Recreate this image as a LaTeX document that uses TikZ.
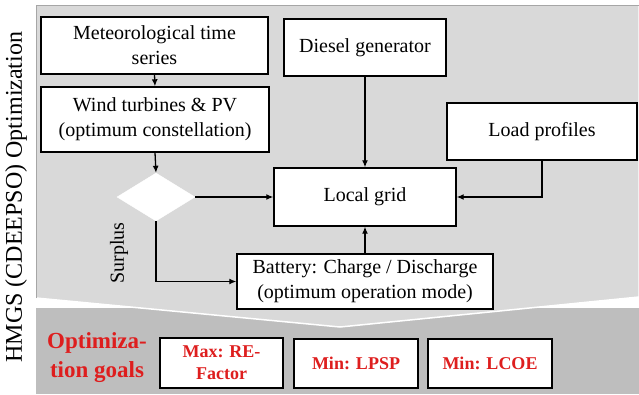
\documentclass[tikz,border=0pt]{standalone}
\usepackage{fontspec}
\setmainfont{Liberation Serif}
\usetikzlibrary{arrows.meta,shapes.geometric}
\definecolor{goalred}{RGB}{222,30,30}
\definecolor{panellight}{RGB}{217,217,217}
\definecolor{paneldark}{RGB}{190,190,190}
\begin{document}
\begin{tikzpicture}[x=1pt,y=-1pt,
  box/.style={draw=black,fill=white,line width=1.4pt,inner sep=0pt,align=center,
    font=\fontsize{20}{25}\selectfont},
  goalbox/.style={box,text=goalred,font=\fontsize{18}{22}\selectfont\bfseries},
  arr/.style={line width=1.3pt,-{Latex[length=7pt,width=6pt]}}]
\useasboundingbox (0,0) rectangle (639,394);
% bottom band
\fill[paneldark] (36,308) rectangle (639,394);
% chevron panel
\filldraw[fill=panellight,draw=white,line width=1.5pt] (36,5) -- (639,5) -- (639,297) -- (340,327) -- (36,298) -- cycle;
\draw[gray!70,line width=1pt] (36,298) -- (36,5) -- (639,5);
% side label
\node[rotate=90,font=\fontsize{24}{28}\selectfont] (side) at (16,197) {HMGS (CDEEPSO) Optimization};
% boxes
\node[box,minimum width=227,minimum height=57] (met) at (154.5,45.5) {Meteorological time\\series};
\node[box,minimum width=228,minimum height=65] (wind) at (155,119.5) {Wind turbines \& PV\\(optimum constellation)};
\node[box,minimum width=162,minimum height=57] (diesel) at (365,47.5) {Diesel generator};
\node[box,minimum width=190,minimum height=57] (load) at (542,131.5) {Load profiles};
\node[box,minimum width=182,minimum height=58] (grid) at (365,197) {Local grid};
\node[diamond,draw=white,fill=white,inner sep=0pt,minimum width=78,minimum height=48] (dia) at (156,197) {};
\node[box,minimum width=256,minimum height=55] (bat) at (365,281.5) {Battery: Charge / Discharge\\(optimum operation mode)};
\node[rotate=90,font=\fontsize{20}{24}\selectfont] (sur) at (119,253) {Surplus};
% arrows
\draw[arr] (met.south) -- (wind.north);
\draw[arr] (wind.south) -- (dia.north);
\draw[arr] (dia.east) -- (grid.west);
\draw[arr] (dia.south) |- (bat.west);
\draw[arr] (diesel.south) -- (grid.north);
\draw[arr] (load.south) |- (grid.east);
\draw[arr] (bat.north) -- (grid.south);
% goals
\node[align=center,text=goalred,font=\fontsize{23}{29}\selectfont\bfseries] (goals) at (97,358) {Optimiza-\\tion goals};
\node[goalbox,minimum width=123,minimum height=50] (g1) at (221.5,363) {Max: RE-\\Factor};
\node[goalbox,minimum width=124,minimum height=49] (g2) at (356,363.5) {Min: LPSP};
\node[goalbox,minimum width=124,minimum height=49] (g3) at (490,363.5) {Min: LCOE};
\end{tikzpicture}
\end{document}
